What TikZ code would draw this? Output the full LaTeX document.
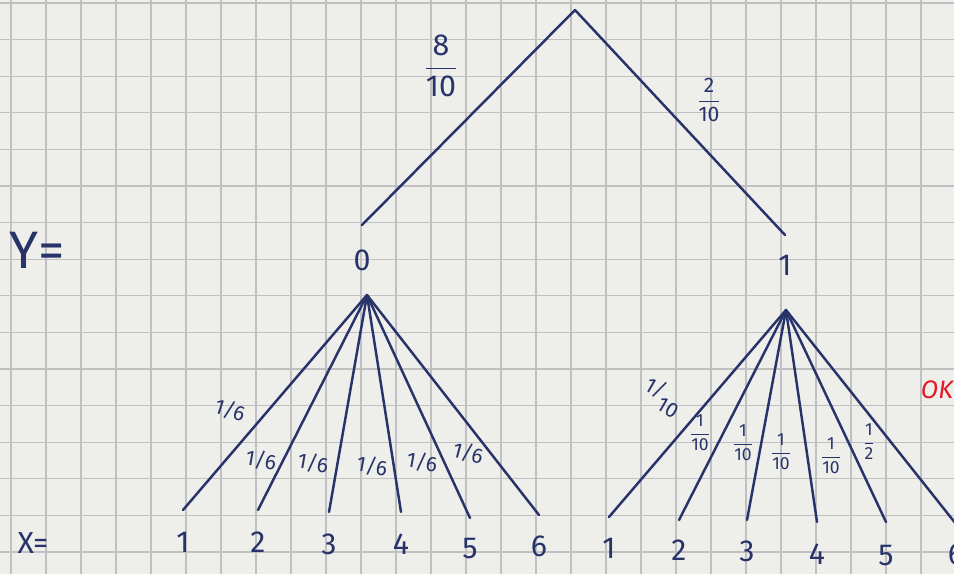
\documentclass[tikz,border=0pt]{standalone}
\usepackage{amsmath}
\usepackage{fontspec}
\setmainfont{Fira Sans}
\usetikzlibrary{positioning}

\definecolor{ink}{RGB}{40,52,105}
\definecolor{paper}{RGB}{238,238,235}
\definecolor{gridgray}{RGB}{192,192,194}
\definecolor{okred}{RGB}{228,22,40}

% stacked and slanted fractions in the text font
\newcommand{\vfrac}[2]{$\genfrac{}{}{0.7pt}{0}{\mbox{#1}}{\mbox{#2}}$}
\newcommand{\slfrac}[2]{\raisebox{0.5ex}{#1/}\raisebox{-0.5ex}{#2}}

\begin{document}
\begin{tikzpicture}[
    x=0.02cm, y=-0.02cm,
    font=\large,
    branch/.style={draw=ink, line width=1.4pt, line cap=round},
    gridline/.style={draw=gridgray, line width=0.7pt},
    val/.style={text=ink, font=\LARGE, inner sep=1pt},
    prob/.style={text=ink, font=\large, inner sep=1pt},
    smallprob/.style={text=ink, font=\normalsize, inner sep=1pt},
    axis/.style={text=ink, inner sep=1pt}
]

% ===================== PAPER =====================
\fill[paper] (0,0) rectangle (954,574);
\useasboundingbox (0,0) rectangle (954,574);
\foreach \k in {0,...,27} \draw[gridline] ({11+35*\k},0) -- ({11+35*\k},574);
\foreach \k in {0,...,15} \draw[gridline] (0,{3+36.6*\k}) -- (954,{3+36.6*\k});

% ===================== FIRST LEVEL (Y) =====================
\coordinate (root) at (575,10);
\coordinate (y0) at (362,225);
\coordinate (y1) at (785,235);

\node[val, below=0.45cm of y0] (v0) {0};
\node[val, below=0.36cm of y1] (v1) {1};

\node[axis, font=\fontsize{30}{34}\selectfont] (ylab) at (37,250) {Y=};
\node[axis, font=\LARGE] (xlab) at (33,543) {X=};

\draw[branch] (root) -- (y0);
\draw[branch] (root) -- (y1);

\node[prob, font=\LARGE] (p0) at (441,66) {\vfrac{8}{10}};
\node[prob] (p1) at (709,100) {\vfrac{2}{10}};

% ===================== SECOND LEVEL, Y = 0 =====================
\coordinate (a0) at (367,295);

\coordinate (l1) at (183,510);
\coordinate (l2) at (258,510);
\coordinate (l3) at (329,512);
\coordinate (l4) at (401,512);
\coordinate (l5) at (470,518);
\coordinate (l6) at (539,515);

\node[val, below=0.4cm of l1] (n1) {1};
\node[val, below=0.4cm of l2] (n2) {2};
\node[val, below=0.4cm of l3] (n3) {3};
\node[val, below=0.4cm of l4] (n4) {4};
\node[val, below=0.36cm of l5] (n5) {5};
\node[val, below=0.38cm of l6] (n6) {6};

\draw[branch] (a0) -- (l1);
\draw[branch] (a0) -- (l2);
\draw[branch] (a0) -- (l3);
\draw[branch] (a0) -- (l4);
\draw[branch] (a0) -- (l5);
\draw[branch] (a0) -- (l6);

\node[prob, rotate=-18] (q1) at (230,410) {1/6};
\node[prob, rotate=-10] (q2) at (261,460) {1/6};
\node[prob, rotate=-10] (q3) at (313,463) {1/6};
\node[prob, rotate=-10] (q4) at (372,466) {1/6};
\node[prob, rotate=-10] (q5) at (422,462) {1/6};
\node[prob, rotate=-15] (q6) at (468,453) {1/6};

% ===================== SECOND LEVEL, Y = 1 =====================
\coordinate (a1) at (786,310);

\coordinate (r1) at (609,517);
\coordinate (r2) at (679,520);
\coordinate (r3) at (747,520);
\coordinate (r4) at (817,522);
\coordinate (r5) at (886,522);
\coordinate (r6) at (956,524);

\node[val, below=0.38cm of r1] (m1) {1};
\node[val, below=0.36cm of r2] (m2) {2};
\node[val, below=0.38cm of r3] (m3) {3};
\node[val, below=0.4cm of r4] (m4) {4};
\node[val, below=0.42cm of r5] (m5) {5};
\node[val, below=0.36cm of r6] (m6) {6};

\draw[branch] (a1) -- (r1);
\draw[branch] (a1) -- (r2);
\draw[branch] (a1) -- (r3);
\draw[branch] (a1) -- (r4);
\draw[branch] (a1) -- (r5);
\draw[branch] (a1) -- (r6);

\node[smallprob, font=\large, rotate=-30] (s1) at (663,397) {\slfrac{1}{10}};
\node[smallprob] (s2) at (700,433) {\vfrac{1}{10}};
\node[smallprob] (s3) at (743,443) {\vfrac{1}{10}};
\node[smallprob] (s4) at (781,452) {\vfrac{1}{10}};
\node[smallprob] (s5) at (831,456) {\vfrac{1}{10}};
\node[smallprob] (s6) at (869,442) {\vfrac{1}{2}};

\node[text=okred, font=\Large\itshape] (ok) at (937,390) {OK};

\end{tikzpicture}
\end{document}
